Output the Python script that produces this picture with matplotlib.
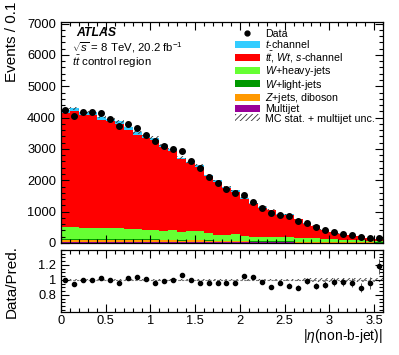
import numpy as np
import matplotlib
matplotlib.use('Agg')
import matplotlib.pyplot as plt
from matplotlib.ticker import MultipleLocator, FuncFormatter
from matplotlib.lines import Line2D
from matplotlib.patches import Patch

plt.rcParams['font.family'] = ['Liberation Sans', 'DejaVu Sans']
plt.rcParams['mathtext.fontset'] = 'custom'
plt.rcParams['mathtext.rm'] = 'Liberation Sans'
plt.rcParams['mathtext.it'] = 'Liberation Sans:italic'
plt.rcParams['mathtext.bf'] = 'Liberation Sans:bold'
plt.rcParams['hatch.linewidth'] = 0.6

# ---------------- data (bins of 0.1 in |eta|, 0 .. 3.6) ----------------
bin_edges = np.round(np.arange(0, 3.61, 0.1), 2)

data = [4254, 4054, 4191, 4170, 4150, 3969, 3746, 3800, 3661, 3461,
        3239, 3080, 2985, 2921, 2604, 2391, 2096, 1915, 1724, 1610,
        1534, 1312, 1121, 962, 889, 852, 689, 625, 508, 403,
        340, 286, 244, 200, 149, 149]

multijet = [45, 44, 42, 42, 42, 42, 42, 39, 39, 38, 37, 34, 36, 32, 34, 34, 28, 23,
            23, 25, 21, 18, 18, 18, 18, 17, 15, 15, 14, 13, 12, 10, 9, 8, 7, 6]
zjets = [60, 59, 56, 56, 56, 56, 56, 52, 52, 52, 50, 46, 48, 43, 46, 46, 37, 31,
         31, 33, 28, 25, 24, 24, 23, 22, 20, 20, 18, 17, 16, 13, 11, 10, 9, 8]
wlight = [30, 30, 28, 28, 28, 28, 28, 26, 26, 26, 25, 23, 24, 22, 23, 23, 18, 15,
          15, 16, 14, 12, 12, 12, 12, 11, 10, 10, 9, 8, 8, 7, 6, 5, 5, 4]
wheavy = [365, 362, 344, 339, 339, 339, 339, 318, 318, 314, 301, 277, 292, 263, 277, 277, 224, 186,
          186, 201, 170, 150, 146, 146, 142, 135, 125, 120, 109, 102, 94, 80, 69, 62, 54, 52]
ttbar = [3660, 3709, 3612, 3613, 3471, 3417, 3336, 3184, 3021, 2912,
         2873, 2672, 2531, 2307, 2157, 2045, 1828, 1696, 1501, 1365,
         1186, 1033, 927, 838, 711, 717, 581, 454, 388, 280,
         211, 178, 152, 133, 76, 53]
tchannel = [94, 95, 92, 92, 89, 87, 85, 81, 78, 75, 74, 69, 66, 60, 57, 55, 48, 44,
            40, 37, 32, 28, 25, 23, 20, 20, 17, 14, 12, 10, 8, 7, 6, 5, 4, 3]
# relative size of the "MC stat. + multijet unc." band
rel_unc = [0.012] * 21 + [0.015] * 6 + [0.03] * 9

components = [
    (multijet, '#990099', 'Multijet'),
    (zjets, '#ff9900', '$Z$+jets, diboson'),
    (wlight, '#009900', '$W$+light-jets'),
    (wheavy, '#66ff33', '$W$+heavy-jets'),
    (ttbar, '#ff0000', r'$t\bar{t}$, $Wt$, $s$-channel'),
    (tchannel, '#33ccff', '$t$-channel'),
]

# ---------------- figure ----------------
fig = plt.figure(figsize=(3.99, 3.55), dpi=100)
ax = fig.add_axes([0.1529, 0.3155, 0.807, 0.6225])
axr = fig.add_axes([0.1529, 0.1211, 0.807, 0.1746])

edges = bin_edges
centers = 0.5 * (edges[:-1] + edges[1:])
bottom = np.zeros(len(data))
for vals, col, lab in components:
    top = bottom + np.array(vals, dtype=float)
    ax.stairs(top, edges, baseline=bottom, fill=True, color=col, lw=0)
    bottom = top
total = bottom
unc = total * np.array(rel_unc)

ax.stairs(total + unc, edges, baseline=total - unc, fill=True, facecolor='none',
          edgecolor='#333333', hatch='//////', lw=0)

d = np.array(data, dtype=float)
ax.errorbar(centers, d, yerr=np.sqrt(d), fmt='o', color='black', ms=4,
            elinewidth=0.8, capsize=0, zorder=5)

ax.set_xlim(0, 3.6)
ax.set_ylim(0, 7050)
ax.yaxis.set_major_locator(MultipleLocator(1000))
ax.yaxis.set_minor_locator(MultipleLocator(200))
ax.xaxis.set_major_locator(MultipleLocator(0.5))
ax.xaxis.set_minor_locator(MultipleLocator(0.1))
ax.set_xticklabels([])

for a in (ax, axr):
    a.tick_params(which='both', direction='in', top=True, right=True,
                  labelsize=9.3, width=0.8, zorder=10)
    a.tick_params(which='major', length=5.5)
    a.tick_params(which='minor', length=2.8)
    a.set_axisbelow(False)
    for s in a.spines.values():
        s.set_linewidth(0.9)
        s.set_zorder(10)

ax.yaxis.set_major_formatter(FuncFormatter(lambda v, p: '%d' % v))

# ratio panel
r = d / total
rerr = np.sqrt(d) / total
rel = np.array(rel_unc)
axr.stairs(1 + rel, edges, baseline=1 - rel, fill=True, facecolor='none',
           edgecolor='#333333', hatch='//////', lw=0)
axr.axhline(1, color='#777777', ls=(0, (2, 1.5)), lw=0.8)
axr.errorbar(centers, r, yerr=rerr, fmt='o', color='black', ms=3,
             elinewidth=0.7, ecolor='#555555', capsize=0, zorder=5)
axr.set_xlim(0, 3.6)
axr.set_ylim(0.57, 1.4)
axr.yaxis.set_major_locator(MultipleLocator(0.2))
axr.yaxis.set_minor_locator(MultipleLocator(0.05))
axr.xaxis.set_major_locator(MultipleLocator(0.5))
axr.xaxis.set_minor_locator(MultipleLocator(0.1))
fmt = FuncFormatter(lambda v, p: '%g' % round(v, 2))
axr.yaxis.set_major_formatter(fmt)
axr.xaxis.set_major_formatter(fmt)
axr.set_yticks([0.8, 1.0, 1.2])
axr.tick_params(axis='x', which='major', pad=2)

# labels
fig.text(12 / 399, 1 - 2 / 355, 'Events / 0.1', rotation=90, ha='center', va='top', fontsize=11)
fig.text(12 / 399, 1 - 282 / 355, 'Data/Pred.', rotation=90, ha='center', va='center', fontsize=11)
fig.text(383 / 399, 1 - 336 / 355, r'|$\eta$(non-b-jet)|', ha='right', va='center', fontsize=10)

fig.text(76 / 399, 1 - 33 / 355, 'ATLAS', fontsize=8.8, fontweight='bold', fontstyle='italic',
         va='center', ha='left')
fig.text(72 / 399, 1 - 48 / 355, r'$\sqrt{s}$ = 8 TeV, 20.2 fb$^{-1}$', fontsize=8.2,
         va='center', ha='left')
fig.text(72 / 399, 1 - 62 / 355, r'$t\bar{t}$ control region', fontsize=8.2,
         va='center', ha='left')

# legend
handles = [Line2D([], [], marker='o', color='black', ls='none', ms=3.5)]
labels = ['Data']
for vals, col, lab in components[::-1]:
    handles.append(Patch(facecolor=col, edgecolor='none'))
    labels.append(lab)
handles.append(Patch(facecolor='white', edgecolor='#333333', hatch='//////', lw=0))
labels.append('MC stat. + multijet unc.')
fig.legend(handles, labels, loc='upper left', bbox_to_anchor=(235 / 399, 1 - 29 / 355),
           frameon=False, fontsize=7.7, handlelength=2.3, handleheight=0.6,
           labelspacing=-0.06, handletextpad=0.55, borderpad=0, borderaxespad=0)

fig.savefig('out.png', dpi=100)
